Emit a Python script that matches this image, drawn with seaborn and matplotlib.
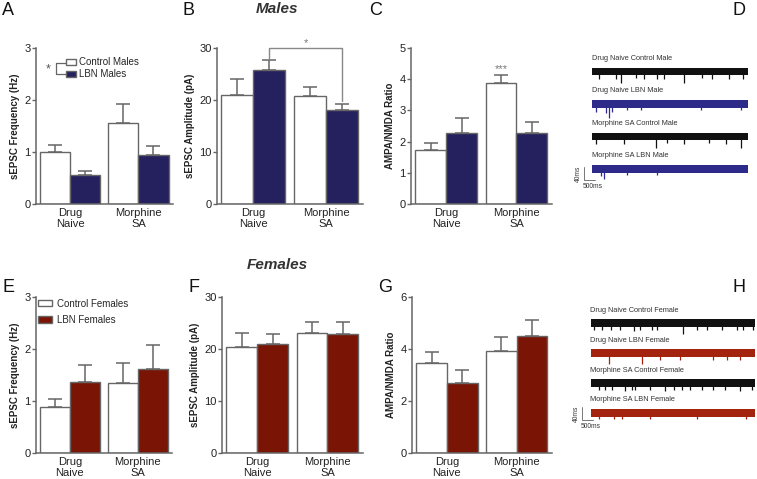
import matplotlib
matplotlib.use("Agg")
import matplotlib.pyplot as plt
from matplotlib.container import BarContainer
import numpy as np
import pandas as pd
import seaborn as sns

sns.set_style("ticks")
plt.rcParams['font.family'] = ['Liberation Sans', 'DejaVu Sans']

# ---- data ----
groups = ['Drug\nNaive', 'Morphine\nSA']

# A: sEPSC frequency, males (Hz)
a_ctrl = [1.00, 1.55]
a_ctrl_err = [0.14, 0.37]
a_lbn = [0.55, 0.94]
a_lbn_err = [0.09, 0.18]

# B: sEPSC amplitude, males (pA)
b_ctrl = [20.9, 20.8]
b_ctrl_err = [3.1, 1.7]
b_lbn = [25.8, 18.1]
b_lbn_err = [1.9, 1.1]

# C: AMPA/NMDA ratio, males
c_ctrl = [1.72, 3.88]
c_ctrl_err = [0.24, 0.26]
c_lbn = [2.29, 2.28]
c_lbn_err = [0.46, 0.36]

# E: sEPSC frequency, females (Hz)
e_ctrl = [0.88, 1.34]
e_ctrl_err = [0.15, 0.39]
e_lbn = [1.37, 1.62]
e_lbn_err = [0.32, 0.46]

# F: sEPSC amplitude, females (pA)
f_ctrl = [20.4, 23.1]
f_ctrl_err = [2.7, 2.0]
f_lbn = [20.9, 22.8]
f_lbn_err = [2.0, 2.3]

# G: AMPA/NMDA ratio, females
g_ctrl = [3.45, 3.93]
g_ctrl_err = [0.42, 0.52]
g_lbn = [2.68, 4.50]
g_lbn_err = [0.51, 0.62]

# example traces: (time ms, spike depth below band in pA)
male_trace_names = ['Drug Naive Control Male', 'Drug Naive LBN Male',
                    'Morphine SA Control Male', 'Morphine SA LBN Male']
male_spikes = [
    [(300, 10), (1050, 10), (1275, 25), (1950, 8), (2325, 10), (2925, 12),
     (3225, 10), (4125, 25), (4950, 8), (5400, 12), (6150, 10), (6750, 12)],
    [(150, 12), (600, 15), (750, 31), (900, 12), (1575, 8), (2175, 6),
     (4875, 6), (6675, 6)],
    [(150, 10), (1425, 10), (2850, 22), (3375, 8), (4125, 10), (5250, 8),
     (6000, 10), (6675, 22)],
    [(375, 10), (525, 20), (1575, 6), (2925, 6)],
]
female_trace_names = ['Drug Naive Control Female', 'Drug Naive LBN Female',
                      'Morphine SA Control Female', 'Morphine SA LBN Female']
female_spikes = [
    [(150, 10), (520, 10), (890, 10), (1330, 10), (1920, 12), (2210, 10),
     (2730, 10), (2950, 10), (4130, 22), (4720, 10), (5160, 10), (5830, 10),
     (6490, 10), (6790, 10), (7230, 10)],
    [(810, 20), (2290, 20), (3100, 8), (3980, 8), (5460, 8), (6050, 8),
     (6640, 8)],
    [(370, 10), (660, 10), (960, 10), (1550, 12), (1840, 10), (1990, 10),
     (2650, 10), (3320, 12), (3690, 10), (4060, 10), (4430, 10), (4940, 10),
     (5460, 10), (5970, 10), (6640, 12), (7160, 10)],
    [(370, 7), (1030, 7), (1400, 7), (2650, 7), (4720, 7), (6930, 7)],
]

navy = '#25205e'
navy_trace = '#2d2a8a'
red = '#7a1404'
red_trace = '#a3230f'
edge = '#666666'
txt = '#222222'

W, H = 757, 479
fig = plt.figure(figsize=(W / 100, H / 100), dpi=100)

unit = 61.5  # px per category


def make_ax(spine_px, bar_px, top_px, bot_px):
    xl = -0.44 - (bar_px - spine_px) / unit
    xr = 1.44 + 12 / unit
    w = (xr - xl) * unit
    ax = fig.add_axes([spine_px / W, 1 - bot_px / H, w / W, (bot_px - top_px) / H])
    ax.set_xlim(xl, xr)
    return ax


def bar_panel(ax, ctrl, ctrl_err, lbn, lbn_err, color, ymax, yticks, ylabel):
    df = pd.DataFrame({
        'group': groups * 2,
        'cond': ['Control'] * 2 + ['LBN'] * 2,
        'value': ctrl + lbn,
    })
    sns.barplot(data=df, x='group', y='value', hue='cond', order=groups,
                hue_order=['Control', 'LBN'], palette={'Control': 'white', 'LBN': color},
                width=0.88, saturation=1, edgecolor=edge, linewidth=1.0,
                errorbar=None, legend=False, ax=ax)
    bars = [c for c in ax.containers if isinstance(c, BarContainer)]
    for cont, errs in zip(bars, [ctrl_err, lbn_err]):
        xs = [b.get_x() + b.get_width() / 2 for b in cont]
        ys = [b.get_height() for b in cont]
        ax.errorbar(xs, ys, yerr=[[0] * len(errs), errs], fmt='none', ecolor=edge,
                    elinewidth=1.1, capsize=5, capthick=1.1, zorder=0.5)
    ax.set_ylim(0, ymax)
    ax.set_yticks(yticks)
    ax.set_xlabel('')
    ax.set_ylabel(ylabel, fontsize=7, fontweight='bold', color=txt, labelpad=3)
    sns.despine(ax=ax)
    for s in ['left', 'bottom']:
        ax.spines[s].set_color(edge)
        ax.spines[s].set_linewidth(1.1)
    ax.tick_params(axis='y', length=3, width=1, color=edge, labelsize=8, labelcolor=txt, pad=1)
    ax.tick_params(axis='x', length=0, labelsize=8, labelcolor=txt, pad=3)
    ax.set_xticks(range(len(groups)))
    ax.set_xticklabels(groups, linespacing=1.05)
    return bars


# ---- top row (males) ----
axA = make_ax(36, 45, 48, 204)
barsA = bar_panel(axA, a_ctrl, a_ctrl_err, a_lbn, a_lbn_err, navy, 3, [0, 1, 2, 3],
                  'sEPSC Frequency (Hz)')
axA.legend(handles=[c.patches[0] for c in barsA],
           labels=['Control Males', 'LBN Males'], loc='upper left',
           bbox_to_anchor=(0.22, 0.94), frameon=False, fontsize=7,
           handlelength=1.0, handleheight=0.6, handletextpad=0.3,
           labelspacing=0.2, borderpad=0, borderaxespad=0)
axA.plot([0.225, 0.145, 0.145, 0.225], [0.904, 0.904, 0.833, 0.833],
         transform=axA.transAxes, color=edge, lw=0.9, clip_on=False)
axA.text(0.09, 0.86, '*', transform=axA.transAxes, fontsize=9, color='#555555',
         ha='center', va='center')

axB = make_ax(217, 235, 48, 204)
barsB = bar_panel(axB, b_ctrl, b_ctrl_err, b_lbn, b_lbn_err, navy, 30, [0, 10, 20, 30],
                  'sEPSC Amplitude (pA)')
lx = barsB[1][0].get_x() + barsB[1][0].get_width() / 2
rx = barsB[1][1].get_x() + barsB[1][1].get_width() / 2
axB.plot([lx, lx, rx, rx], [b_lbn[0] + b_lbn_err[0] + 0.3, 30, 30,
                            b_lbn[1] + b_lbn_err[1] + 0.6],
         color='#888888', lw=1.0, clip_on=False)
axB.text((lx + rx) / 2, 31.0, '*', fontsize=8, color='#777777', ha='center', va='center')

axC = make_ax(411, 424, 48, 204)
barsC = bar_panel(axC, c_ctrl, c_ctrl_err, c_lbn, c_lbn_err, navy, 5, [0, 1, 2, 3, 4, 5],
                  'AMPA/NMDA Ratio')
b = barsC[0][1]
axC.text(b.get_x() + b.get_width() / 2, c_ctrl[1] + c_ctrl_err[1] + 0.2, '***',
         fontsize=8, color='#777777', ha='center', va='center')

# ---- bottom row (females) ----
axE = make_ax(36, 44, 297, 453)
barsE = bar_panel(axE, e_ctrl, e_ctrl_err, e_lbn, e_lbn_err, red, 3, [0, 1, 2, 3],
                  'sEPSC Frequency (Hz)')
axE.legend(handles=[c.patches[0] for c in barsE],
           labels=['Control Females', 'LBN Females'], loc='upper left',
           bbox_to_anchor=(0.015, 0.99), frameon=False, fontsize=7,
           handlelength=1.45, handleheight=0.6, handletextpad=0.5,
           labelspacing=0.65, borderpad=0, borderaxespad=0)

axF = make_ax(222, 235, 297, 453)
bar_panel(axF, f_ctrl, f_ctrl_err, f_lbn, f_lbn_err, red, 30, [0, 10, 20, 30],
          'sEPSC Amplitude (pA)')

axG = make_ax(412, 424, 297, 453)
bar_panel(axG, g_ctrl, g_ctrl_err, g_lbn, g_lbn_err, red, 6, [0, 2, 4, 6],
          'AMPA/NMDA Ratio')


# ---- traces ----
def trace_panel(rect_px, names, spikes, colors, length, base, step, ylim_top):
    l, t, r, bt = rect_px
    ax = fig.add_axes([l / W, 1 - bt / H, (r - l) / W, (bt - t) / H])
    ax.set_xlim(-1000, 7400)
    ax.set_ylim(0, ylim_top)
    ax.axis('off')
    half = 12
    for i, (name, sp, col) in enumerate(zip(names, spikes, colors)):
        c = base + step * (3 - i)
        ax.fill_between([0, length], c - half, c + half, color=col, lw=0)
        ts = np.array([s[0] for s in sp])
        ds = np.array([s[1] for s in sp])
        ax.vlines(ts, c - half - ds, c, color=col, lw=0.9)
        ax.text(0, c + 40, name, fontsize=5.3, color='#333333', va='center', ha='left')
    # scale bar: 40 (vertical) x 500 ms
    x0, y0 = -380, 46
    ax.plot([x0, x0, x0 + 500], [y0 + 40, y0, y0], color='#777777', lw=0.7)
    ax.text(x0 - 90, y0 + 20, '40ms', rotation=90, fontsize=4.8, color='#333333',
            ha='right', va='center')
    ax.text(x0 - 60, y0 - 8, '500ms', fontsize=4.8, color='#333333', ha='left', va='top')
    return ax


trace_panel((570, 50, 757, 195), male_trace_names, male_spikes,
            ['#111111', navy_trace, '#111111', navy_trace], 7000, 80, 100, 446)
trace_panel((568, 298, 757, 435), female_trace_names, female_spikes,
            ['#111111', red_trace, '#111111', red_trace], 7300, 68, 92, 422)

# ---- panel letters and titles ----
letters = [('A', 2, 2), ('B', 182, 2), ('C', 369, 2), ('D', 732, 2),
           ('E', 2, 279), ('F', 188, 279), ('G', 378, 279), ('H', 732, 279)]
for lab, x, y in letters:
    fig.text(x / W, 1 - y / H, lab, fontsize=13, va='top', ha='left', color='#111111')

fig.text(277 / W, 1 - 9 / H, 'Males', fontsize=11, fontweight='bold', style='italic',
         ha='center', va='center', color='#333333')
fig.text(277 / W, 1 - 265 / H, 'Females', fontsize=11, fontweight='bold', style='italic',
         ha='center', va='center', color='#333333')

fig.savefig('out.png', dpi=100)
